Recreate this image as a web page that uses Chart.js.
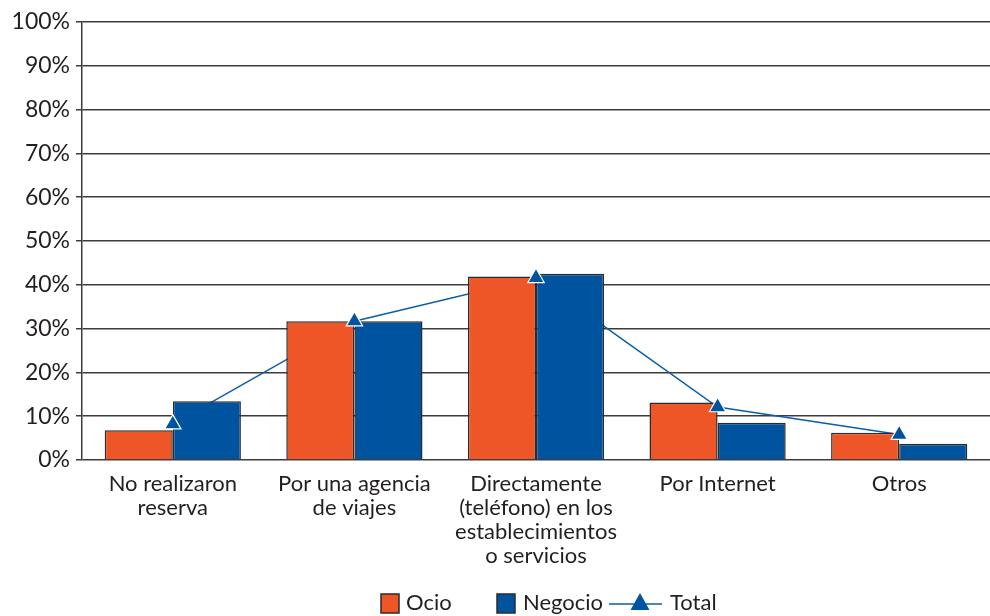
<!DOCTYPE html>
<html>
<head>
<meta charset="utf-8">
<script src="https://cdn.jsdelivr.net/npm/chart.js@4"></script>
<style>
  html, body { margin: 0; padding: 0; background: #ffffff; }
  #wrap { width: 990px; height: 616px; position: relative; }
</style>
</head>
<body>
<div id="wrap"><canvas id="c" width="990" height="616"></canvas></div>
<script>
const categories = [
  ["No realizaron", "reserva"],
  ["Por una agencia", "de viajes"],
  ["Directamente", "(teléfono) en los", "establecimientos", "o servicios"],
  ["Por Internet"],
  ["Otros"]
];
const seriesNames = ["Ocio", "Negocio", "Total"];
const ocio = [6.8, 31.7, 41.9, 13.1, 6.2];
const negocio = [13.4, 31.7, 42.5, 8.5, 3.7];
const total = [8.2, 31.7, 41.6, 12.1, 5.8];
const yTicks = [0, 10, 20, 30, 40, 50, 60, 70, 80, 90, 100];

const FONT = "Lato, 'Open Sans', sans-serif";
const ORANGE = "#EE5627";
const BLUE = "#00539E";
const LINEBLUE = "#0B5FA9";
const EDGE = "#2b2b2b";
const GRID = "#3c3c3c";

const legendPlugin = {
  id: "customLegend",
  afterDraw(chart) {
    const ctx = chart.ctx;
    const cy = 603;
    ctx.save();
    ctx.font = "22px " + FONT;
    ctx.textBaseline = "middle";
    // Ocio
    ctx.fillStyle = ORANGE; ctx.fillRect(381, 594, 18, 19);
    ctx.strokeStyle = EDGE; ctx.lineWidth = 1.5; ctx.strokeRect(381, 594, 18, 19);
    ctx.fillStyle = "#231f20"; ctx.fillText(seriesNames[0], 406, cy);
    // Negocio
    ctx.fillStyle = BLUE; ctx.fillRect(497, 594, 18, 19);
    ctx.strokeRect(497, 594, 18, 19);
    ctx.fillStyle = "#231f20"; ctx.fillText(seriesNames[1], 523, cy);
    // Total
    ctx.strokeStyle = LINEBLUE; ctx.lineWidth = 1.5;
    ctx.beginPath(); ctx.moveTo(609, cy + 1); ctx.lineTo(662, cy + 1); ctx.stroke();
    ctx.fillStyle = BLUE;
    ctx.beginPath(); ctx.moveTo(640, 593); ctx.lineTo(649.5, 610); ctx.lineTo(630.5, 610); ctx.closePath(); ctx.fill();
    ctx.fillStyle = "#231f20"; ctx.fillText(seriesNames[2], 670, cy);
    ctx.restore();
  }
};

new Chart(document.getElementById("c"), {
  type: "bar",
  data: {
    labels: categories,
    datasets: [
      {
        type: "line", label: seriesNames[2] + " line", data: total,
        borderColor: LINEBLUE, borderWidth: 1.5, pointRadius: 0, order: 3, fill: false, tension: 0
      },
      {
        label: seriesNames[0], data: ocio, backgroundColor: ORANGE,
        borderColor: EDGE, borderWidth: 1.5, order: 2,
        categoryPercentage: 0.75, barPercentage: 1.0
      },
      {
        label: seriesNames[1], data: negocio, backgroundColor: BLUE,
        borderColor: EDGE, borderWidth: 1.5, order: 2,
        categoryPercentage: 0.75, barPercentage: 1.0
      },
      {
        type: "line", label: seriesNames[2], data: total, showLine: false,
        pointStyle: "triangle", pointRadius: 9.5, pointBackgroundColor: BLUE,
        pointBorderColor: "#ffffff", pointBorderWidth: 1.2, order: 1
      }
    ]
  },
  options: {
    responsive: false,
    animation: false,
    devicePixelRatio: 1,
    layout: { autoPadding: false, padding: { top: 22, right: -5, left: 0, bottom: 0 } },
    plugins: { legend: { display: false }, tooltip: { enabled: false } },
    scales: {
      x: {
        grid: { display: false, drawTicks: false },
        border: { display: false },
        ticks: { font: { family: FONT, size: 22, lineHeight: "24px" }, color: "#231f20", padding: 12, maxRotation: 0, autoSkip: false },
        afterFit(scale) { scale.height = 156; scale.paddingLeft = 0; scale.paddingRight = 0; }
      },
      y: {
        min: 0, max: 100,
        afterBuildTicks(scale) { scale.ticks = yTicks.map(v => ({ value: v })); },
        grid: { color: GRID, lineWidth: 1.5, tickLength: 6, drawTicks: true },
        border: { display: true, color: GRID, width: 1.5 },
        ticks: {
          font: { family: FONT, size: 23 }, color: "#231f20", padding: 6,
          callback: v => v + "%"
        },
        afterFit(scale) { scale.width = 82; scale.paddingTop = 0; scale.paddingBottom = 0; }
      }
    }
  },
  plugins: [legendPlugin]
});
</script>
</body>
</html>
